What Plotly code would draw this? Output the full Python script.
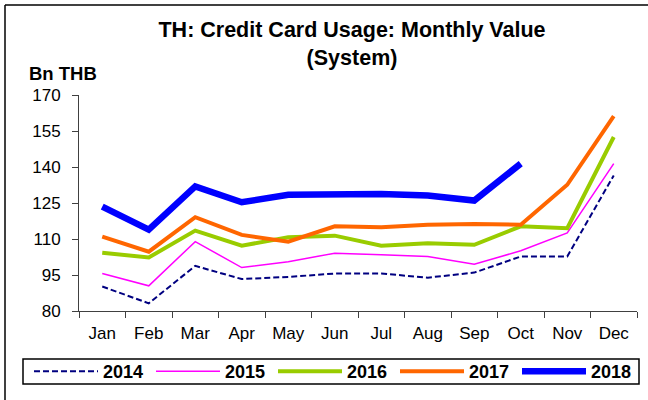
import plotly.graph_objects as go

months = ["Jan", "Feb", "Mar", "Apr", "May", "Jun", "Jul", "Aug", "Sep", "Oct", "Nov", "Dec"]
y2014 = [90.2, 83.2, 98.8, 93.3, 94.2, 95.6, 95.6, 93.9, 96.0, 102.7, 102.7, 136.5]
y2015 = [95.6, 90.5, 108.9, 98.1, 100.5, 104.1, 103.4, 102.7, 99.5, 105.1, 112.5, 141.4]
y2016 = [104.3, 102.3, 113.5, 107.2, 110.7, 111.4, 107.2, 108.2, 107.6, 115.3, 114.5, 152.5]
y2017 = [111.0, 104.7, 119.1, 111.7, 108.9, 115.3, 114.9, 115.9, 116.3, 115.9, 132.6, 161.2]
y2018 = [123.5, 113.9, 131.9, 125.3, 128.4, 128.4, 128.8, 128.1, 126.0, 141.4, None, None]
ytick_vals = [80, 95, 110, 125, 140, 155, 170]

series = [
    ("2014", y2014, "#000080", 2, "6px,3px"),
    ("2015", y2015, "#FF00FF", 1.5, "solid"),
    ("2016", y2016, "#99CC00", 4, "solid"),
    ("2017", y2017, "#FF6600", 4, "solid"),
    ("2018", y2018, "#0000FF", 6.5, "solid"),
]

FONT = "Liberation Sans, Arial, sans-serif"
W, H = 648, 400
L, R, T, B = 79, 11, 95, 89
PW, PH = W - L - R, H - T - B


def px_x(x):
    return (x - L) / PW


def px_y(y):
    return (H - B - y) / PH


fig = go.Figure()
for name, ys, col, w, dash in series:
    fig.add_trace(go.Scatter(x=months, y=ys, name="<b>" + name + "</b>", mode="lines",
                             line=dict(color=col, width=w, dash=dash),
                             connectgaps=False))

fig.update_layout(
    width=W, height=H,
    margin=dict(l=L, r=R, t=T, b=B, autoexpand=False),
    paper_bgcolor="white", plot_bgcolor="white",
    font=dict(family=FONT, color="black", size=17),
    title=dict(text="<b>TH: Credit Card Usage: Monthly Value<br>(System)</b>",
               x=352 / W, xanchor="center", y=1 - 37 / H, yanchor="top",
               font=dict(size=21.5, family=FONT)),
    showlegend=True,
    legend=dict(orientation="h", x=px_x(29), y=px_y(353),
                xanchor="left", yanchor="top",
                bgcolor="rgba(0,0,0,0)", borderwidth=0,
                font=dict(size=18, family=FONT),
                entrywidth=43, entrywidthmode="pixels",
                itemwidth=64, tracegroupgap=0),
)
fig.update_xaxes(range=[-0.5, 11.5], showline=True, linecolor="#404040", linewidth=1,
                 ticks="outside", tickson="boundaries", ticklen=6, tickcolor="#404040",
                 showgrid=False, zeroline=False, tickfont=dict(size=17),
                 ticklabelstandoff=7, automargin=False)
fig.update_yaxes(range=[80, 170], tickvals=ytick_vals, showline=True, linecolor="#404040",
                 linewidth=1, ticks="outside", ticklen=6, tickcolor="#404040",
                 showgrid=False, zeroline=False, tickfont=dict(size=17),
                 ticklabelstandoff=8, automargin=False)

fig.add_annotation(text="<b>Bn THB</b>", xref="paper", yref="paper",
                   x=px_x(27), y=px_y(74), xanchor="left", yanchor="middle",
                   showarrow=False, font=dict(size=18.5, family=FONT))
# legend frame
fig.add_shape(type="rect", xref="paper", yref="paper",
              x0=px_x(23), x1=px_x(639), y0=px_y(359), y1=px_y(384),
              line=dict(color="black", width=1.5), fillcolor="rgba(0,0,0,0)")
# outer frame lines
fig.add_shape(type="line", xref="paper", yref="paper",
              x0=px_x(5), x1=px_x(5), y0=px_y(5), y1=px_y(400),
              line=dict(color="black", width=1.5))
fig.add_shape(type="line", xref="paper", yref="paper",
              x0=px_x(5), x1=px_x(648), y0=px_y(5), y1=px_y(5),
              line=dict(color="black", width=1.5))

fig.write_html("out.html", config={"displayModeBar": False},
               post_script="document.body.style.margin='0';document.body.style.padding='0';")
